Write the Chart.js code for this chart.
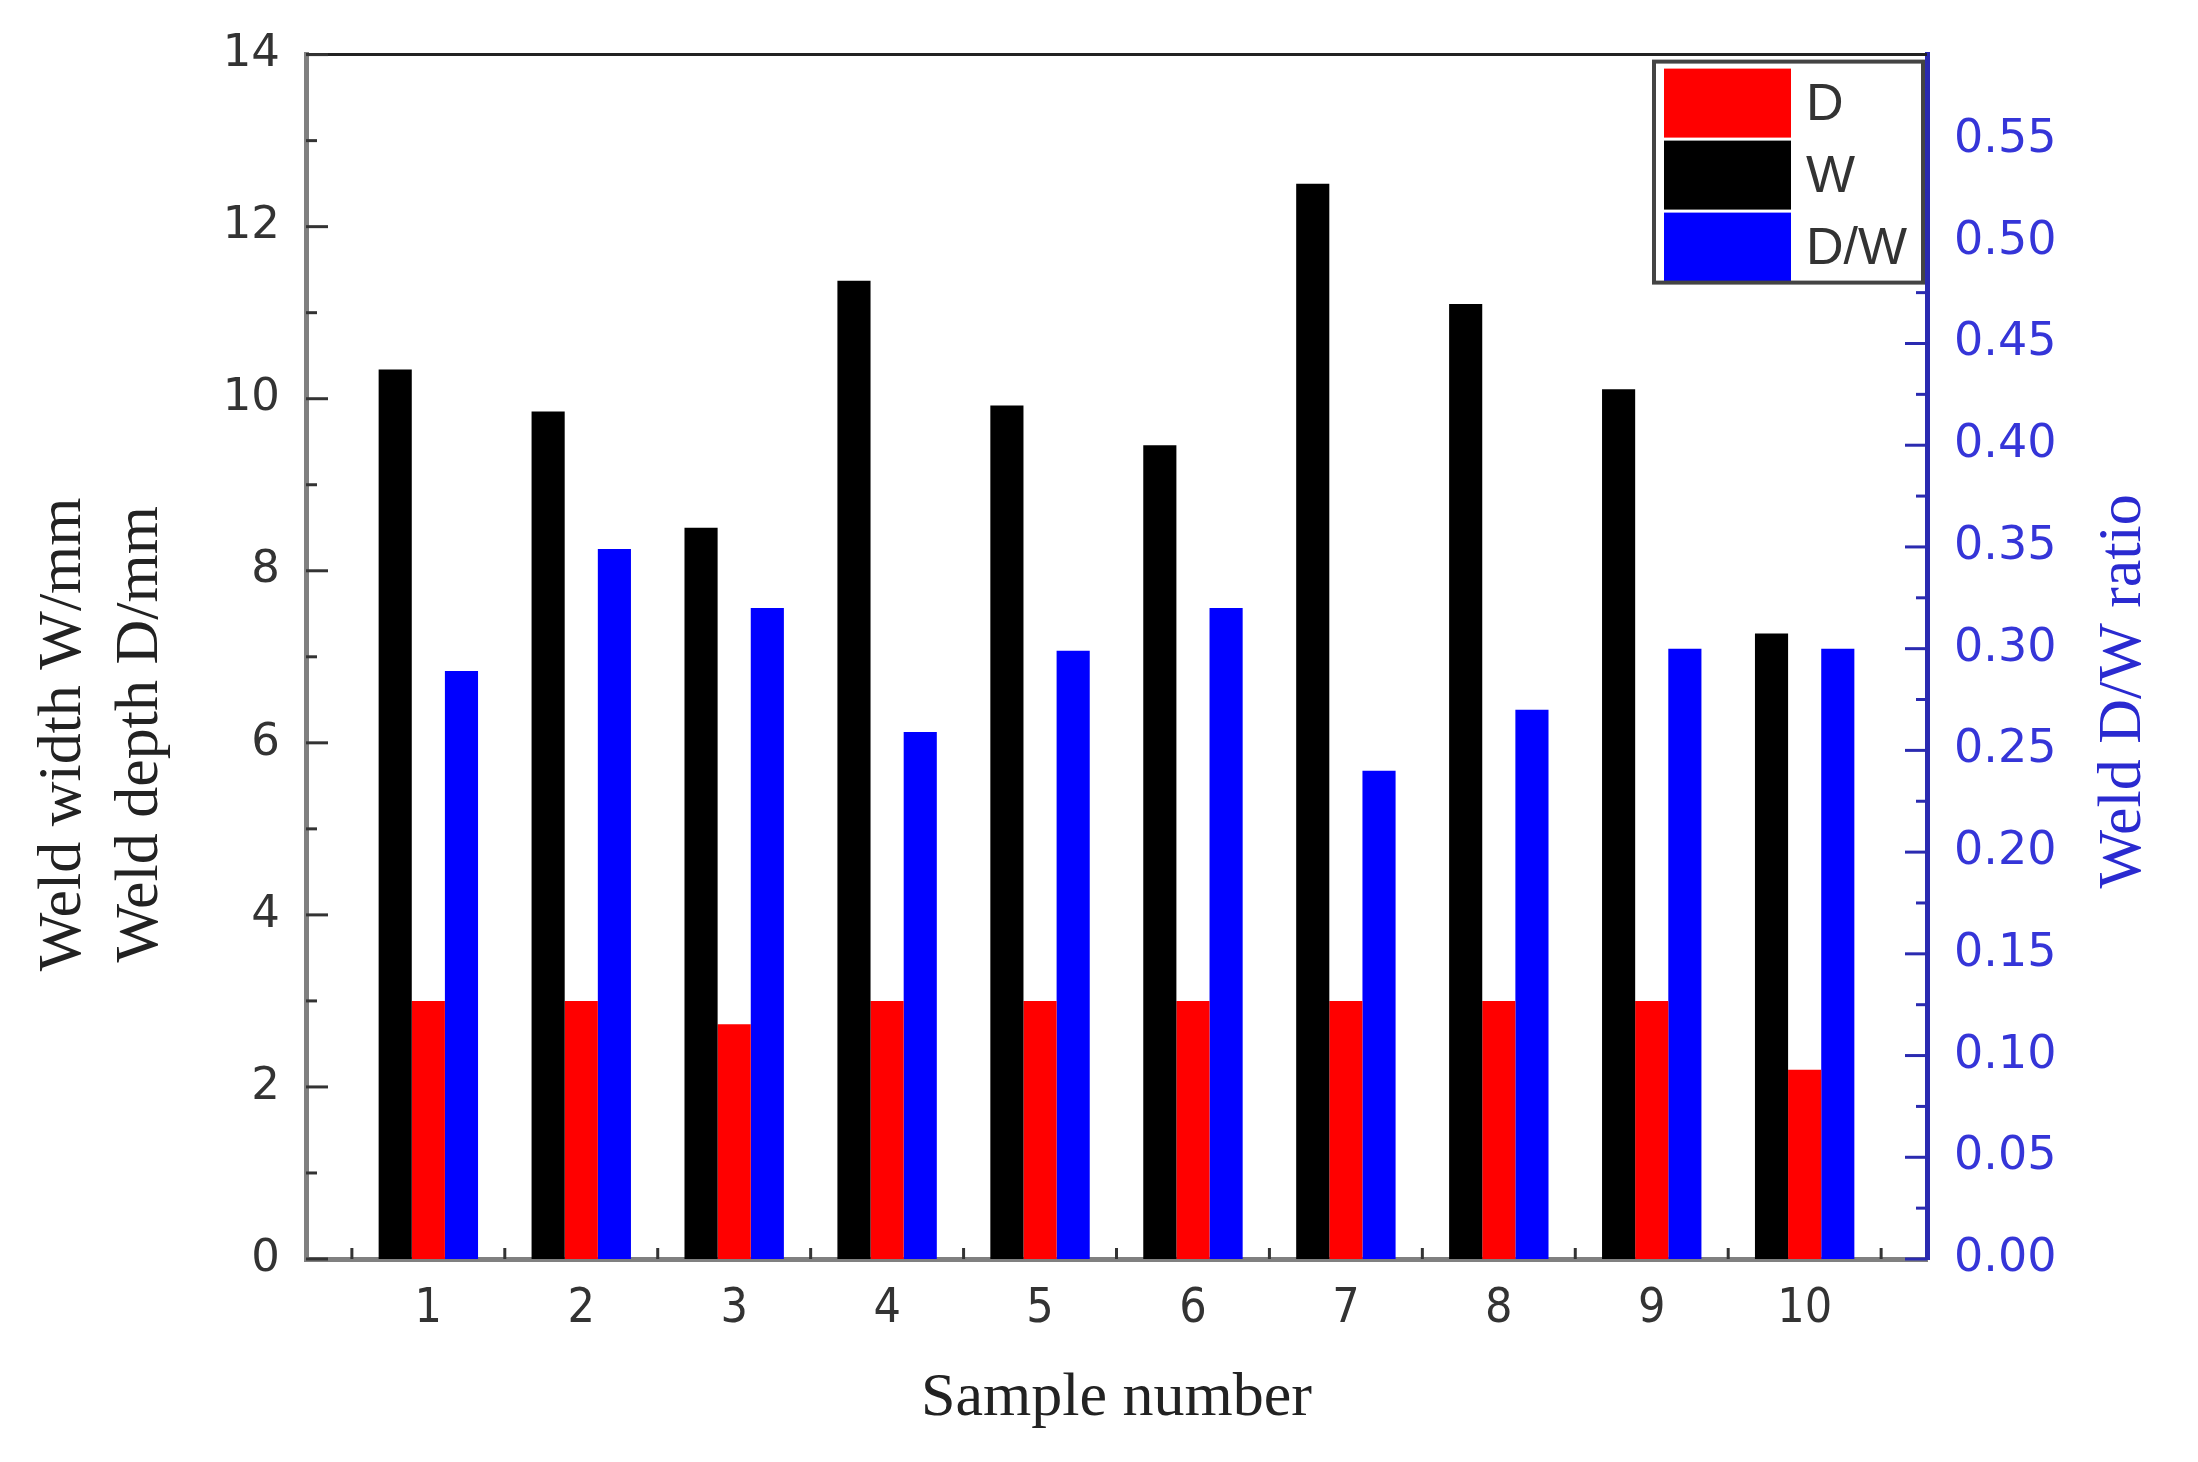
<!DOCTYPE html>
<html>
<head>
<meta charset="utf-8">
<script src="https://cdn.jsdelivr.net/npm/chart.js@4.4.1/dist/chart.umd.min.js"></script>
<style>
  body { margin: 0; background: #fff; }
  #wrap { width: 2198px; height: 1462px; }
</style>
</head>
<body>
<div id="wrap"><canvas id="chart" width="2198" height="1462"></canvas></div>
<script>
// Data
const samples = [1, 2, 3, 4, 5, 6, 7, 8, 9, 10];
const widthW = [10.34, 9.85, 8.5, 11.37, 9.92, 9.46, 12.5, 11.1, 10.11, 7.27];
const depthD = [3.0, 3.0, 2.73, 3.0, 3.0, 3.0, 3.0, 3.0, 3.0, 2.2];
const ratioDW = [0.289, 0.349, 0.32, 0.259, 0.299, 0.32, 0.24, 0.27, 0.30, 0.30];
const leftTicks = [0, 2, 4, 6, 8, 10, 12, 14];
const rightTicks = [0, 0.05, 0.1, 0.15, 0.2, 0.25, 0.3, 0.35, 0.4, 0.45, 0.5, 0.55];

const blueAxis = "#2a2ab0";
const serif = "'Liberation Serif', 'Times New Roman', serif";
const tickFont = "'DejaVu Sans', sans-serif";
const narrowFont = "'Liberation Sans Narrow', 'DejaVu Sans Condensed', sans-serif";

const toPoints = (vals) => samples.map((s, i) => ({ x: s, y: vals[i] }));

// inward ticks, top frame line, right title and the boxed legend
const frameAndTicks = {
  id: "frameAndTicks",
  afterDatasetsDraw(chart) {
    const { ctx, chartArea: a, scales } = chart;
    const seg = (x1, y1, x2, y2) => {
      ctx.beginPath();
      ctx.moveTo(x1, y1);
      ctx.lineTo(x2, y2);
      ctx.stroke();
    };
    ctx.save();
    ctx.lineWidth = 3;
    ctx.strokeStyle = "#222";
    seg(a.left, a.top, a.right, a.top);

    // left axis ticks
    ctx.strokeStyle = "#333";
    for (let v = 0; v <= 14; v++) {
      const py = scales.y.getPixelForValue(v);
      seg(a.left, py, a.left + (v % 2 === 0 ? 22 : 11), py);
    }
    // bottom axis ticks between samples
    for (let v = 0.5; v <= 10.5; v++) {
      const px = scales.x.getPixelForValue(v);
      seg(px, a.bottom, px, a.bottom - 11);
    }
    // right axis ticks
    ctx.strokeStyle = blueAxis;
    for (let k = 0; k <= 23; k++) {
      const py = scales.y2.getPixelForValue(k * 0.025);
      if (py < a.top) continue;
      seg(a.right, py, a.right - (k % 2 === 0 ? 22 : 11), py);
    }

    // right axis title, reading upwards like the left one
    ctx.save();
    ctx.translate(a.right + 197, scales.y2.getPixelForValue(0.279));
    ctx.rotate(-Math.PI / 2);
    ctx.font = "62px " + serif;
    ctx.fillStyle = "#2a2ad0";
    ctx.textAlign = "center";
    ctx.textBaseline = "middle";
    ctx.fillText("Weld D/W ratio", 0, 0);
    ctx.restore();

    // legend
    const boxR = a.right - 4, boxT = a.top + 7;
    const boxL = boxR - 269, boxB = boxT + 221;
    ctx.fillStyle = "#fff";
    ctx.fillRect(boxL, boxT, boxR - boxL, boxB - boxT);
    const items = [
      { label: "D", color: "#ff0000" },
      { label: "W", color: "#000000" },
      { label: "D/W", color: "#0000ff" },
    ];
    ctx.font = "52px 'Liberation Sans', Arial, sans-serif";
    ctx.textBaseline = "middle";
    items.forEach((it, i) => {
      const top = boxT + 7 + i * 72;
      ctx.fillStyle = it.color;
      ctx.fillRect(boxL + 10, top, 127, 69);
      ctx.fillStyle = "#333";
      ctx.fillText(it.label, boxL + 152, top + 37);
    });
    ctx.strokeStyle = "#444";
    ctx.lineWidth = 4;
    ctx.strokeRect(boxL, boxT, boxR - boxL, boxB - boxT);
    ctx.restore();
  },
};

new Chart(document.getElementById("chart"), {
  type: "bar",
  data: {
    datasets: [
      { label: "W", data: toPoints(widthW), backgroundColor: "#000000", yAxisID: "y" },
      { label: "D", data: toPoints(depthD), backgroundColor: "#ff0000", yAxisID: "y" },
      { label: "D/W", data: toPoints(ratioDW), backgroundColor: "#0000ff", yAxisID: "y2" },
    ],
  },
  options: {
    responsive: false,
    animation: false,
    devicePixelRatio: 1,
    categoryPercentage: 0.65,
    barPercentage: 1.0,
    layout: { padding: { top: 52, left: 0, right: 0, bottom: 0 } },
    plugins: {
      legend: { display: false },
      tooltip: { enabled: false },
    },
    scales: {
      x: {
        type: "linear",
        offset: false,
        min: 0.2,
        max: 10.8,
        afterBuildTicks: (s) => { s.ticks = samples.map((v) => ({ value: v })); },
        afterFit: (s) => { s.height = 203; },
        grid: { display: false, drawTicks: false },
        border: { display: true, color: "#808080", width: 5 },
        ticks: {
          padding: 22,
          color: "#333",
          font: { family: narrowFont, size: 48 },
          callback: (v) => String(v),
        },
        title: {
          display: true,
          text: "Sample number",
          color: "#222",
          font: { family: serif, size: 62 },
          padding: { top: 0, bottom: 26 },
        },
      },
      y: {
        position: "left",
        min: 0,
        max: 14,
        afterBuildTicks: (s) => { s.ticks = leftTicks.map((v) => ({ value: v })); },
        afterFit: (s) => { s.width = 306; },
        grid: { display: false, drawTicks: false },
        border: { display: true, color: "#808080", width: 5 },
        ticks: {
          padding: 26,
          color: "#333",
          font: { family: tickFont, size: 45 },
        },
        title: {
          display: true,
          text: ["Weld width W/mm          ", "Weld depth D/mm          "],
          color: "#222",
          font: { family: serif, size: 62, lineHeight: 1.24 },
          padding: { top: 25, bottom: 0 },
        },
      },
      y2: {
        position: "right",
        min: 0,
        max: 0.592,
        afterBuildTicks: (s) => { s.ticks = rightTicks.map((v) => ({ value: v })); },
        afterFit: (s) => { s.width = 271; },
        grid: { display: false, drawTicks: false },
        border: { display: true, color: blueAxis, width: 5 },
        ticks: {
          padding: 27,
          color: "#3535d8",
          font: { family: tickFont, size: 46 },
          callback: (v) => v.toFixed(2),
        },
      },
    },
  },
  plugins: [frameAndTicks],
});
</script>
</body>
</html>
